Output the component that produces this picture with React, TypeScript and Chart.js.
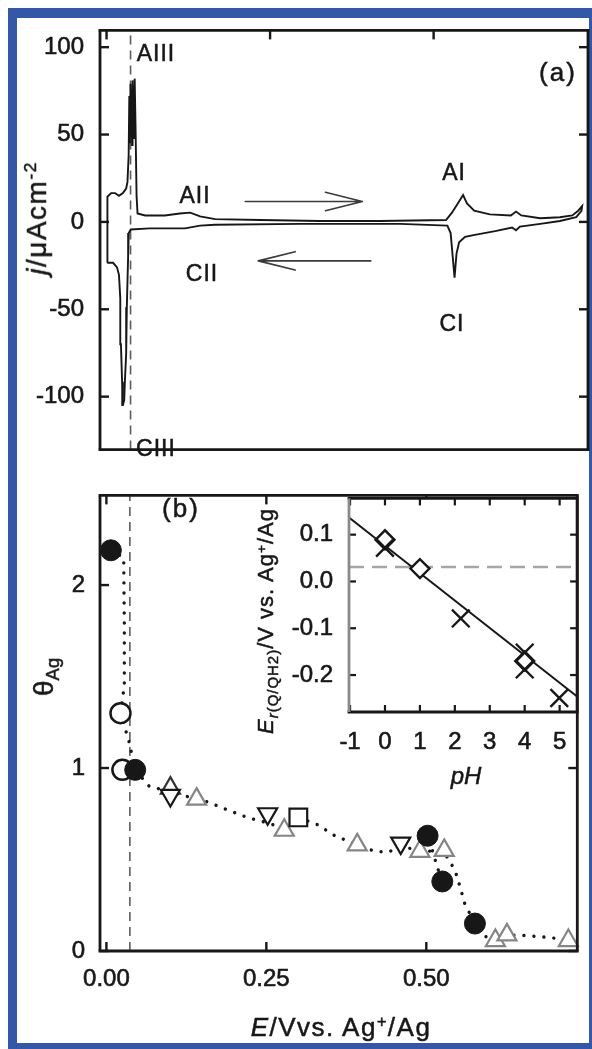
import React, { useEffect, useRef } from "react";
import { Chart, registerables } from "chart.js";

Chart.register(...registerables);

const FONT = "'Liberation Sans', Arial, Helvetica, sans-serif";
const INK = "#171717";
const GREY_MARK = "#858585";
const BLUE = "#3457a8";

// ---------- Panel (a): cyclic voltammogram ----------
const cvPotential = [
  0.001, 0.001, 0.001, 0.002, 0.007, 0.013, 0.019, 0.025, 0.03, 0.032,
  0.0338, 0.0348, 0.0358, 0.0366, 0.0374, 0.0382, 0.039, 0.0398, 0.0406, 0.0414,
  0.0422, 0.043, 0.0443, 0.0459, 0.0474, 0.059,
  0.089, 0.112, 0.128, 0.143, 0.166, 0.235, 0.326, 0.418, 0.519, 0.528,
  0.537, 0.545, 0.551, 0.562, 0.586, 0.618, 0.626, 0.634, 0.663, 0.693,
  0.712, 0.721, 0.727, 0.726, 0.718, 0.693, 0.663, 0.632, 0.626, 0.62,
  0.594, 0.563, 0.548, 0.539, 0.535, 0.532, 0.529, 0.526, 0.521, 0.449,
  0.296, 0.166, 0.143, 0.12, 0.066, 0.037, 0.034, 0.033, 0.031, 0.03,
  0.028, 0.027, 0.025, 0.024, 0.022, 0.021, 0.019, 0.016, 0.01, 0.004, 0.001,
];
const cvCurrent = [
  -23.4, -9, 6.9, 14.4, 16.5, 16.5, 14.9, 16.5, 19.1, 22.9,
  38, 72, 45, 79, 50, 76, 44, 81, 52, 78,
  48, 82, 55, 14.9, 4.8, 3.7,
  3.7, 4.8, 5.3, 3.2, 1.6, 1.1, 0.5, 0.5, 1.1, 5.3,
  10.6, 15.4, 10.6, 6.4, 4.3, 3.7, 5.9, 3.7, 2.1, 2.7,
  3.7, 6.4, 9, 6.4, 2.7, 0.5, -1.1, -2.7, -4.8, -3.2,
  -5.3, -7.4, -8.5, -11.7, -18.1, -31.9, -19.1, -6.4, -2.1, -1.1,
  -1.1, -1.6, -2.1, -3.7, -3.7, -4.3, -6.4, -19.7, -48.9, -75.5,
  -91.5, -102, -104.8, -94, -70, -43.6, -30.3, -26, -23.4, -23.4, -23.4,
];
const potentialRange = [-0.01, 0.736];
const currentRange = [-130.3, 109.6];
const potentialTicks = [0, 0.25, 0.5];
const currentTicks = [-100, -50, 0, 50, 100];
const markerPotential = 0.0367;
const forwardArrowE = [0.212, 0.391];
const forwardArrowJ = [11.7, 11.7];
const backwardArrowE = [0.404, 0.232];
const backwardArrowJ = [-22.3, -22.3];

// ---------- Panel (b): silver coverage ----------
const coverageRange = [0, 2.49];
const coverageTicks = [0, 1, 2];
const solidCircleE = [0.007, 0.045, 0.502, 0.525, 0.576];
const solidCircleTheta = [2.19, 0.99, 0.63, 0.38, 0.15];
const openCircleE = [0.022, 0.025];
const openCircleTheta = [1.3, 0.99];
const upTriangleE = [0.141, 0.278, 0.392, 0.49, 0.528, 0.608, 0.626, 0.722];
const upTriangleTheta = [0.83, 0.66, 0.58, 0.545, 0.55, 0.057, 0.088, 0.057];
const upTriangleDarkE = [0.1];
const upTriangleDarkTheta = [0.89];
const downTriangleE = [0.1, 0.252, 0.46];
const downTriangleTheta = [0.85, 0.75, 0.59];
const squareE = [0.3];
const squareTheta = [0.73];
const guideE = [
  0.007, 0.027, 0.028, 0.028, 0.022, 0.035, 0.045, 0.067, 0.1, 0.141,
  0.158, 0.19, 0.22, 0.252, 0.278, 0.3, 0.33, 0.357, 0.392, 0.419,
  0.44, 0.46, 0.49, 0.528, 0.545, 0.552, 0.56, 0.576, 0.592, 0.608,
  0.626, 0.653, 0.695, 0.722,
];
const guideTheta = [
  2.19, 2.15, 1.8, 1.45, 1.3, 1.15, 0.99, 0.9, 0.87, 0.83,
  0.815, 0.77, 0.73, 0.7, 0.67, 0.73, 0.69, 0.63, 0.58, 0.545,
  0.54, 0.57, 0.55, 0.54, 0.44, 0.36, 0.26, 0.15, 0.08, 0.057,
  0.088, 0.085, 0.073, 0.057,
];
const guideBranchE = [0.505, 0.512, 0.518, 0.525];
const guideBranchTheta = [0.6, 0.52, 0.45, 0.38];

// ---------- Inset: Er vs pH ----------
const phRange = [-1.03, 5.5];
const erRange = [-0.279, 0.1775];
const phTicks = [-1, 0, 1, 2, 3, 4, 5];
const erTicks = [-0.2, -0.1, 0, 0.1];
const diamondPH = [0, 1, 4];
const diamondEr = [0.089, 0.0275, -0.17];
const crossPH = [0, 2.17, 4, 4, 4.99];
const crossEr = [0.072, -0.079, -0.152, -0.188, -0.249];
const fitPH = [-1.03, 5.5];
const fitEr = [0.1368, -0.246];
const refPH = [-1.03, 5.5];
const refEr = [0.031, 0.031];

const pts = (xs: number[], ys: number[]) => xs.map((x, i) => ({ x, y: ys[i] }));
const setTicks = (vals: number[]) => (s: any) => {
  s.ticks = vals.map((value) => ({ value }));
};

const frameTicks = {
  id: "frameTicks",
  beforeDraw(chart: any, _a: any, o: any) {
    if (!o.fill) return;
    const { ctx, chartArea: c } = chart;
    ctx.save();
    ctx.fillStyle = o.fill;
    ctx.fillRect(c.left, c.top, c.right - c.left, c.bottom - c.top);
    ctx.restore();
  },
  afterDraw(chart: any, _a: any, o: any) {
    const { ctx, chartArea: c, scales } = chart;
    const len = o.tickLen;
    const seg = (x1: number, y1: number, x2: number, y2: number) => {
      ctx.beginPath();
      ctx.moveTo(x1, y1);
      ctx.lineTo(x2, y2);
      ctx.stroke();
    };
    ctx.save();
    ctx.lineCap = "butt";
    ctx.strokeStyle = INK;
    ctx.lineWidth = o.tickWidth;
    for (const t of scales.x.ticks) {
      const p = scales.x.getPixelForValue(t.value);
      if (o.tickSides.includes("bottom")) seg(p, c.bottom, p, c.bottom - len);
      if (o.tickSides.includes("top")) seg(p, c.top, p, c.top + len);
    }
    for (const t of scales.y.ticks) {
      const p = scales.y.getPixelForValue(t.value);
      if (o.tickSides.includes("left")) seg(c.left, p, c.left + len, p);
      if (o.tickSides.includes("right")) seg(c.right, p, c.right - len, p);
    }
    const fw = o.frameWidth;
    ctx.lineWidth = fw;
    const sides = o.sides;
    if (sides.top) { ctx.strokeStyle = sides.top; seg(c.left - fw / 2, c.top, c.right + fw / 2, c.top); }
    if (sides.bottom) { ctx.strokeStyle = sides.bottom; seg(c.left - fw / 2, c.bottom, c.right + fw / 2, c.bottom); }
    if (sides.left) { ctx.strokeStyle = sides.left; seg(c.left, c.top, c.left, c.bottom); }
    if (sides.right) { ctx.strokeStyle = sides.right; seg(c.right, c.top, c.right, c.bottom); }
    ctx.restore();
  },
};

const arrowPlugin = {
  id: "cvArrows",
  afterDatasetsDraw(chart: any, _a: any, o: any) {
    const { ctx, scales } = chart;
    const { x, y } = scales;
    ctx.save();
    ctx.strokeStyle = o.color;
    ctx.lineWidth = o.width;
    ctx.lineCap = "round";
    for (const a of o.arrows) {
      const x0 = x.getPixelForValue(a.e[0]);
      const x1 = x.getPixelForValue(a.e[1]);
      const y0 = y.getPixelForValue(a.j[0]);
      const y1 = y.getPixelForValue(a.j[1]);
      const ang = Math.atan2(y1 - y0, x1 - x0);
      ctx.beginPath();
      ctx.moveTo(x0, y0);
      ctx.lineTo(x1, y1);
      for (const s of [-1, 1]) {
        const b = ang + Math.PI + s * o.headAngle;
        ctx.moveTo(x1, y1);
        ctx.lineTo(x1 + Math.cos(b) * o.headLen, y1 + Math.sin(b) * o.headLen);
      }
      ctx.stroke();
    }
    ctx.restore();
  },
};

const tickFont = { family: FONT, size: 24 };
const tickStyle = { font: tickFont, color: INK, textStrokeColor: INK, textStrokeWidth: 0.6, autoSkip: false, maxRotation: 0 };
const hiddenGrid = { display: false, drawTicks: false };
const noBorder = { display: false };

function cvConfig(): any {
  return {
    type: "scatter",
    data: {
      datasets: [
        {
          data: pts(cvPotential, cvCurrent),
          showLine: true,
          borderColor: INK,
          borderWidth: 1.9,
          pointRadius: 0,
          tension: 0,
        },
        {
          data: pts([markerPotential, markerPotential], currentRange),
          showLine: true,
          borderColor: "#5c5c5c",
          borderWidth: 1.6,
          borderDash: [9, 6],
          pointRadius: 0,
        },
      ],
    },
    options: {
      animation: false,
      responsive: false,
      devicePixelRatio: 1,
      layout: { padding: { left: 0, top: 22, right: 4, bottom: 7 } },
      plugins: {
        legend: { display: false },
        tooltip: { enabled: false },
        frameTicks: {
          tickLen: 9, tickWidth: 2.4, frameWidth: 2.8,
          tickSides: ["top", "left", "right"],
          sides: { top: INK, bottom: INK, left: INK, right: INK },
        },
        cvArrows: {
          color: "#3a3a3a", width: 1.6, headLen: 38, headAngle: (14 * Math.PI) / 180,
          arrows: [
            { e: forwardArrowE, j: forwardArrowJ },
            { e: backwardArrowE, j: backwardArrowJ },
          ],
        },
      },
      scales: {
        x: {
          type: "linear", min: potentialRange[0], max: potentialRange[1],
          grid: hiddenGrid, border: noBorder, ticks: { display: false },
          afterBuildTicks: setTicks(potentialTicks),
          afterFit: (s: any) => { s.height = 0; },
        },
        y: {
          type: "linear", min: currentRange[0], max: currentRange[1],
          grid: hiddenGrid, border: noBorder,
          ticks: { ...tickStyle, padding: 16, callback: (v: number) => String(v) },
          afterBuildTicks: setTicks(currentTicks),
          afterFit: (s: any) => { s.width = 100; },
        },
      },
    },
    plugins: [frameTicks, arrowPlugin],
  };
}

function coverageConfig(): any {
  const marker = (xs: number[], ys: number[], extra: any) => ({
    data: pts(xs, ys),
    showLine: false,
    clip: false,
    ...extra,
  });
  return {
    type: "scatter",
    data: {
      datasets: [
        marker(solidCircleE, solidCircleTheta, {
          pointStyle: "circle", pointRadius: 10.5, backgroundColor: INK, borderColor: INK, borderWidth: 1,
        }),
        marker(openCircleE, openCircleTheta, {
          pointStyle: "circle", pointRadius: 10, backgroundColor: "#fff", borderColor: INK, borderWidth: 2.5,
        }),
        marker(squareE, squareTheta, {
          pointStyle: "rect", pointRadius: 12.5, backgroundColor: "#fff", borderColor: INK, borderWidth: 2.2,
        }),
        marker(downTriangleE, downTriangleTheta, {
          pointStyle: "triangle", rotation: 180, pointRadius: 11, backgroundColor: "#fff", borderColor: INK, borderWidth: 2.2,
        }),
        marker(upTriangleDarkE, upTriangleDarkTheta, {
          pointStyle: "triangle", pointRadius: 11, backgroundColor: "rgba(255,255,255,0)", borderColor: "#333", borderWidth: 2.2,
        }),
        marker(upTriangleE, upTriangleTheta, {
          pointStyle: "triangle", pointRadius: 11, backgroundColor: "#fff", borderColor: GREY_MARK, borderWidth: 2.2,
        }),
        {
          data: pts(guideE, guideTheta),
          showLine: true, pointRadius: 0, borderColor: INK, borderWidth: 3.4,
          borderDash: [0.01, 10], borderCapStyle: "round", tension: 0,
        },
        {
          data: pts(guideBranchE, guideBranchTheta),
          showLine: true, pointRadius: 0, borderColor: INK, borderWidth: 3.4,
          borderDash: [0.01, 10], borderCapStyle: "round", tension: 0,
        },
        {
          data: pts([markerPotential, markerPotential], coverageRange),
          showLine: true, pointRadius: 0, borderColor: "#5c5c5c", borderWidth: 1.6, borderDash: [9, 6],
        },
      ],
    },
    options: {
      animation: false,
      responsive: false,
      devicePixelRatio: 1,
      layout: { padding: { left: 0, top: 7, right: 4, bottom: 0 } },
      plugins: {
        legend: { display: false },
        tooltip: { enabled: false },
        frameTicks: {
          tickLen: 9, tickWidth: 2.4, frameWidth: 2.8,
          tickSides: ["top", "bottom", "left", "right"],
          sides: { top: INK, bottom: INK, left: INK, right: INK },
        },
      },
      scales: {
        x: {
          type: "linear", min: potentialRange[0], max: potentialRange[1],
          grid: hiddenGrid, border: noBorder,
          ticks: { ...tickStyle, padding: 14, callback: (v: number) => v.toFixed(2) },
          afterBuildTicks: setTicks(potentialTicks),
          afterFit: (s: any) => { s.height = 98; },
        },
        y: {
          type: "linear", min: coverageRange[0], max: coverageRange[1],
          grid: hiddenGrid, border: noBorder,
          ticks: { ...tickStyle, padding: 15, callback: (v: number) => String(v) },
          afterBuildTicks: setTicks(coverageTicks),
          afterFit: (s: any) => { s.width = 100; },
        },
      },
    },
    plugins: [frameTicks],
  };
}

function insetConfig(): any {
  return {
    type: "scatter",
    data: {
      datasets: [
        {
          data: pts(crossPH, crossEr), pointStyle: "crossRot", pointRadius: 12.5,
          borderColor: INK, borderWidth: 2.4, clip: false,
        },
        {
          data: pts(diamondPH, diamondEr), pointStyle: "rectRot", pointRadius: 9.5,
          backgroundColor: "#fff", borderColor: INK, borderWidth: 2.4, clip: false,
        },
        {
          data: pts(fitPH, fitEr), showLine: true, pointRadius: 0, borderColor: INK, borderWidth: 2,
        },
        {
          data: pts(refPH, refEr), showLine: true, pointRadius: 0, borderColor: "#a6a6a6",
          borderWidth: 2.4, borderDash: [15, 8],
        },
      ],
    },
    options: {
      animation: false,
      responsive: false,
      devicePixelRatio: 1,
      layout: { padding: { left: 0, top: 6, right: 4, bottom: 0 } },
      plugins: {
        legend: { display: false },
        tooltip: { enabled: false },
        frameTicks: {
          fill: "#fff",
          tickLen: 7, tickWidth: 2.2, frameWidth: 2.8,
          tickSides: ["top", "bottom", "left", "right"],
          sides: { top: INK, bottom: INK, left: "#8a8a8a", right: INK },
        },
      },
      scales: {
        x: {
          type: "linear", min: phRange[0], max: phRange[1],
          grid: hiddenGrid, border: noBorder,
          ticks: { ...tickStyle, padding: 16, callback: (v: number) => String(v) },
          afterBuildTicks: setTicks(phTicks),
          afterFit: (s: any) => { s.height = 88; },
        },
        y: {
          type: "linear", min: erRange[0], max: erRange[1],
          grid: hiddenGrid, border: noBorder,
          ticks: { ...tickStyle, padding: 16, callback: (v: number) => v.toFixed(1) },
          afterBuildTicks: setTicks(erTicks),
          afterFit: (s: any) => { s.width = 99; },
        },
      },
    },
    plugins: [frameTicks],
  };
}

function ChartCanvas({ make, left, top, width, height }: any) {
  const ref = useRef<HTMLCanvasElement>(null);
  useEffect(() => {
    const chart = new Chart(ref.current as HTMLCanvasElement, make());
    return () => chart.destroy();
  }, [make]);
  return (
    <canvas
      ref={ref}
      width={width}
      height={height}
      style={{ position: "absolute", left, top, width, height }}
    />
  );
}

function Label({ x, y, size, rotate, spacing, children, style }: any) {
  return (
    <div
      style={{
        position: "absolute",
        left: x,
        top: y,
        transform: `translate(-50%, -50%)${rotate ? " rotate(-90deg)" : ""}`,
        fontFamily: FONT,
        fontSize: size,
        lineHeight: 1,
        letterSpacing: spacing || 0,
        whiteSpace: "nowrap",
        color: INK,
        WebkitTextStroke: `0.5px ${INK}`,
        ...style,
      }}
    >
      {children}
    </div>
  );
}

const sup = { fontSize: "0.62em", position: "relative" as const, top: "-0.55em" };
const sub = { fontSize: "0.68em", position: "relative" as const, top: "0.32em" };

export default function App() {
  return (
    <div style={{ position: "fixed", left: 0, top: 0, width: 592, height: 1049, overflow: "hidden", background: "#fff" }}>
      <div
        style={{
          position: "absolute", left: 8, top: 8, width: 584, height: 1041, boxSizing: "border-box",
          borderStyle: "solid", borderColor: BLUE, borderWidth: "10px 3px 6px 9px", background: "#fff",
        }}
      />
      <ChartCanvas make={coverageConfig} left={0} top={466} width={592} height={583} />
      <ChartCanvas make={cvConfig} left={0} top={0} width={592} height={480} />
      <ChartCanvas make={insetConfig} left={250} top={468} width={342} height={332} />

      <Label x={156} y={53} size={23} spacing={1}>AIII</Label>
      <Label x={195} y={195} size={23} spacing={1}>AII</Label>
      <Label x={454} y={172} size={23} spacing={1}>AI</Label>
      <Label x={558} y={72} size={26} spacing={2}>(a)</Label>
      <Label x={202} y={273} size={23} spacing={1}>CII</Label>
      <Label x={452} y={323} size={23} spacing={1}>CI</Label>
      <Label x={156} y={448} size={23} spacing={1}>CIII</Label>
      <Label x={181} y={508} size={26} spacing={2}>(b)</Label>

      <Label x={37} y={218} size={28} spacing={1.5} rotate>
        <i>j</i>/μAcm<span style={sup}>-2</span>
      </Label>
      <Label x={44} y={677} size={28} rotate>
        θ<span style={{ ...sub, fontSize: "0.66em" }}>Ag</span>
      </Label>
      <Label x={266} y={621} size={22} spacing={1} rotate>
        <i>E</i><span style={sub}><i>r</i>(Q/QH2)</span>/V vs. Ag<span style={sup}>+</span>/Ag
      </Label>
      <Label x={466} y={776} size={24} style={{ fontStyle: "italic" }}>pH</Label>
      <Label x={341} y={1027} size={26} spacing={1.5}>
        <i>E</i>/Vvs. Ag<span style={sup}>+</span>/Ag
      </Label>
    </div>
  );
}
